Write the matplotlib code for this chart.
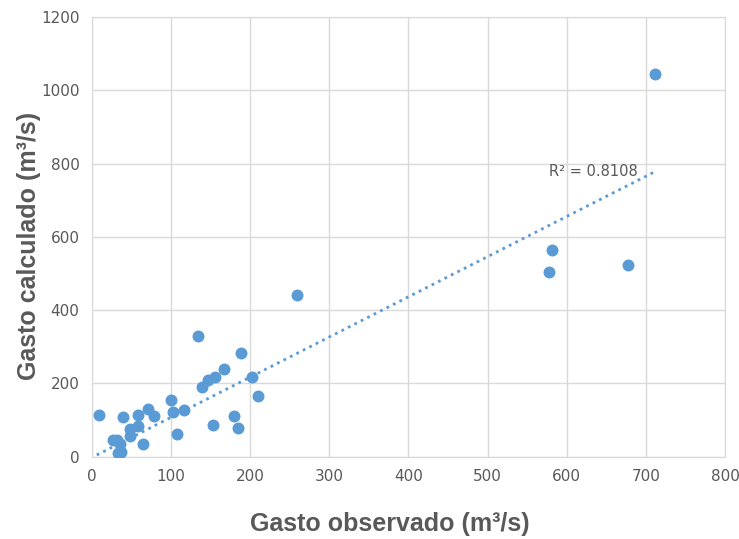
import numpy as np
import matplotlib.pyplot as plt

# gasto observado / calculado (m3/s)
observado = [9, 39, 58, 71, 78, 58, 48, 48, 26, 31, 35, 33, 37, 65,
             100, 102, 116, 108, 134, 139, 147, 156, 167, 188, 202, 210,
             153, 180, 184, 259, 581, 578, 677, 712]
calculado = [113, 109, 115, 130, 110, 85, 75, 57, 46, 46, 35, 11, 13, 36,
             156, 122, 128, 62, 330, 189, 208, 218, 238, 284, 217, 167,
             87, 110, 77, 442, 565, 505, 524, 1045]

# linea de tendencia
pendiente = 1.096
ordenada = -2.0
r2_texto = "R² = 0.8108"

color = "#5B9BD5"
gris = "#595959"

fig = plt.figure(figsize=(7.39, 5.39), dpi=100)
ax = fig.add_axes([0.1245, 0.1527, 0.8565, 0.8158])

ax.scatter(observado, calculado, s=74, color=color, zorder=3, linewidths=0)

xs = np.array([6, max(observado)], dtype=float)
ax.plot(xs, pendiente * xs + ordenada, linestyle=(0, (1, 1.6)), color=color,
        linewidth=2, zorder=2)
ax.text(578, 778, r2_texto, fontsize=10.5, color=gris, ha="left", va="center")

ax.set_xlim(0, 800)
ax.set_ylim(0, 1200)
ax.set_xticks(range(0, 801, 100))
ax.set_yticks(range(0, 1201, 200))
ax.grid(True, color="#D9D9D9", linewidth=1)
ax.set_axisbelow(True)
for s in ax.spines.values():
    s.set_color("#D9D9D9")
ax.tick_params(length=0, labelsize=11, labelcolor=gris, pad=9)

ax.set_xlabel("Gasto observado (m³/s)", fontsize=18, fontweight="bold", color=gris,
              family="Liberation Sans")
ax.set_ylabel("Gasto calculado (m³/s)", fontsize=18, fontweight="bold", color=gris,
              family="Liberation Sans")
ax.xaxis.set_label_coords(0.47, -0.125)
ax.yaxis.set_label_coords(-0.08, 0.48)

fig.savefig("out.png", dpi=100)
